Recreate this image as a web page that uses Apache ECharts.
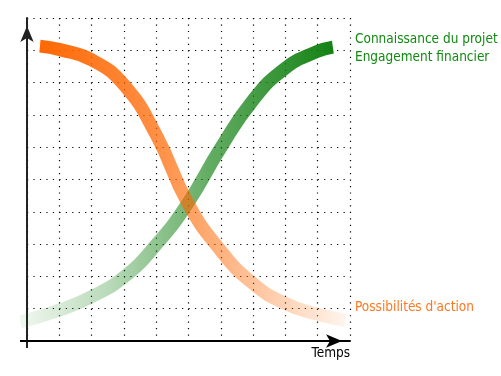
<!DOCTYPE html>
<html lang="fr">
<head>
	<meta charset="UTF-8">
	<title>Connaissance du projet</title>
	<style type="text/css">
	html, body {
		margin: 0;
		padding: 0;
		background: #fff;
	}
	.chart {
		width: 501px;
		height: 376px;
	}
</style>
</head>
<body>
	<div class="chart"></div>

	<script type="text/javascript" src="https://cdn.jsdelivr.net/npm/echarts@6/dist/echarts.min.js"></script>
	<script type="text/javascript">

		// données (unités de grille 0..10)
		var connaissanceX = [-0.22, 1.02, 2.01, 3.00, 3.99, 4.98, 5.98, 6.97, 7.96, 8.95, 9.47];
		var connaissanceY = [0.59, 0.96, 1.38, 1.98, 2.97, 4.27, 5.95, 7.42, 8.42, 8.95, 9.10];
		var possibilitesX = [0.40, 1.02, 2.01, 3.00, 3.99, 4.98, 5.98, 6.97, 7.96, 8.95, 9.85];
		var possibilitesY = [9.13, 9.02, 8.70, 7.93, 6.40, 4.27, 2.82, 1.80, 1.18, 0.84, 0.64];
		var labels = ["Connaissance du projet", "Engagement financier", "Possibilités d'action", "Temps"];

		var chart = echarts.init(document.getElementsByClassName("chart")[0]);
		var font = "'DejaVu Sans Condensed', 'DejaVu Sans'";

		function pairs (xs, ys) {
			var arr = [];
			xs.forEach(function (x, i) {
				arr[i] = [x, ys[i]];
			});
			return arr;
		}

		function grad (stops) {
			return new echarts.graphic.LinearGradient(0, 0, 1, 0, stops);
		}

		var gridLines = {
			show: true,
			lineStyle: { color: "#000", width: 1.2, type: [1.2, 5.26] }
		};

		var option = {
			animation: false,
			grid: { left: 27, top: 18, width: 323, height: 323 },
			xAxis: {
				type: "value", min: 0, max: 10, interval: 1,
				axisLine: {
					lineStyle: { color: "#000", width: 2 },
					symbol: ["none", "arrow"], symbolSize: [10, 16], symbolOffset: [0, -8]
				},
				axisTick: { show: false },
				axisLabel: { show: false },
				splitLine: gridLines
			},
			yAxis: {
				type: "value", min: 0, max: 10, interval: 1,
				axisLine: {
					lineStyle: { color: "#222", width: 2 },
					symbol: ["none", "arrow"], symbolSize: [10, 16], symbolOffset: [0, -8]
				},
				axisTick: { show: false },
				axisLabel: { show: false },
				splitLine: gridLines
			},
			series: [
				{
					name: labels[0],
					type: "line",
					smooth: 0.5,
					symbol: "none",
					clip: false,
					data: pairs(connaissanceX, connaissanceY),
					lineStyle: {
						width: 13,
						cap: "butt",
						color: grad([
							{ offset: 0, color: "rgba(16,128,16,0.04)" },
							{ offset: 0.3, color: "rgba(16,128,16,0.3)" },
							{ offset: 0.6, color: "rgba(16,128,16,0.65)" },
							{ offset: 1, color: "rgba(16,128,16,1)" }
						])
					}
				},
				{
					name: labels[2],
					type: "line",
					smooth: 0.5,
					symbol: "none",
					clip: false,
					data: pairs(possibilitesX, possibilitesY),
					lineStyle: {
						width: 13,
						cap: "butt",
						color: grad([
							{ offset: 0, color: "rgba(255,102,0,1)" },
							{ offset: 0.4, color: "rgba(255,102,0,0.72)" },
							{ offset: 0.7, color: "rgba(255,102,0,0.38)" },
							{ offset: 1, color: "rgba(255,102,0,0.05)" }
						])
					}
				}
			],
			graphic: [
				// petits prolongements des axes sous l'origine
				{ type: "line", shape: { x1: 20, y1: 341, x2: 28, y2: 341 }, style: { stroke: "#000", lineWidth: 2 } },
				{ type: "line", shape: { x1: 27, y1: 340, x2: 27, y2: 348 }, style: { stroke: "#222", lineWidth: 2 } },
				{ type: "text", left: 355, top: 32, style: { text: labels[0], fill: "#108a10", font: "13.5px " + font } },
				{ type: "text", left: 355, top: 50, style: { text: labels[1], fill: "#108a10", font: "13.5px " + font } },
				{ type: "text", left: 355, top: 300, style: { text: labels[2], fill: "#ff7722", font: "13.5px " + font } },
				{ type: "text", right: 151, top: 346, style: { text: labels[3], fill: "#000", font: "13.5px " + font } }
			]
		};

		chart.setOption(option);

	</script>
</body>
</html>
